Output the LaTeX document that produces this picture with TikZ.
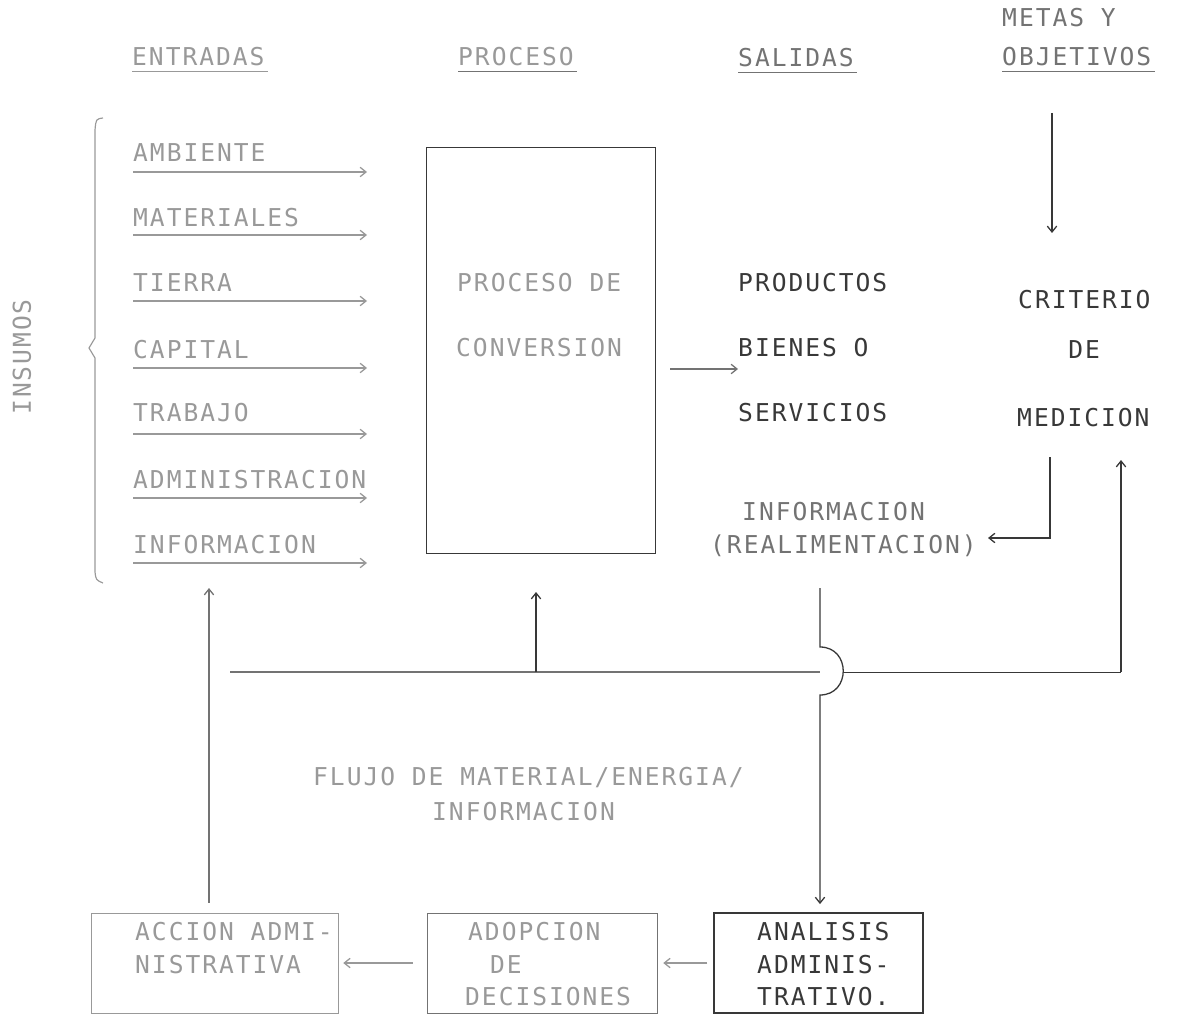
\documentclass[tikz,border=0pt]{standalone}
\usepackage{fontspec}
\usetikzlibrary{arrows.meta}
\newfontfamily\tw[LetterSpace=8]{DejaVu Sans Mono}
\definecolor{faint}{gray}{0.60}
\definecolor{mid}{gray}{0.45}
\definecolor{ink}{gray}{0.22}
\tikzset{
  lbl/.style={anchor=base west, inner sep=0pt, font={\tw\fontsize{21}{25}\selectfont}},
  flbl/.style={lbl, text=faint},
  mlbl/.style={lbl, text=mid},
  dlbl/.style={lbl, text=ink},
  box/.style={draw, inner sep=0pt},
  ln/.style={line width=1.1pt},
  arr/.style={ln, -{Straight Barb[length=5pt,width=8pt]}},
}
\begin{document}
\begin{tikzpicture}[x=0.03cm,y=-0.03cm]
\useasboundingbox (0,0) rectangle (1181,1020);

% headers
\node[flbl] (hEnt) at (132,65.5) {ENTRADAS};
\node[flbl] (hPro) at (458,65.5) {PROCESO};
\node[mlbl] (hSal) at (738,66.5) {SALIDAS};
\node[mlbl] (hMet) at (1002,26.5) {METAS Y};
\node[mlbl] (hObj) at (1002,65.5) {OBJETIVOS};
\foreach \n/\c in {hEnt/faint,hPro/mid,hSal/mid,hObj/mid}
  \draw[\c, line width=1pt] ([yshift=-0.19cm]\n.base west) -- ([yshift=-0.19cm,xshift=0.1cm]\n.base east);

% INSUMOS and brace
\node[flbl, anchor=center, rotate=90] (ins) at (22,357) {INSUMOS};
\draw[faint, line width=1pt] (103,118) .. controls (96,119) .. (95,130) -- (95,338) -- (89,348) -- (95,358) -- (95,572) .. controls (96,580) .. (103,583);

% inputs
\foreach \t/\yy/\ya [count=\i] in {AMBIENTE/153/172, MATERIALES/218/235, TIERRA/283/301, CAPITAL/350/368, TRABAJO/413/434, ADMINISTRACION/480/498, INFORMACION/545/563}{
  \node[flbl] (in\i) at (133,\yy+8.5) {\t};
  \coordinate (ie\i) at (367,\ya);
  \draw[arr, faint] (in\i.base west |- ie\i) -- (ie\i);
}

% process box
\node[box, draw=ink, minimum width=6.87cm, minimum height=12.18cm] (proc) at (540.5,350) {};
\node[flbl] (p1) at (457,291.5) {PROCESO DE};
\node[flbl] (p2) at (456,356.5) {CONVERSION};

% outputs
\node[dlbl] (o1) at (738,291.5) {PRODUCTOS};
\node[dlbl] (o2) at (738,356.5) {BIENES O};
\node[dlbl] (o3) at (738,421.5) {SERVICIOS};
\node[mlbl] (o4) at (742,520.5) {INFORMACION};
\node[mlbl] (o5) at (710,553.5) {(REALIMENTACION)};
\draw[arr, mid] (proc.east |- 0,369) ++(15,0) coordinate (pa) -- (o2.base west |- pa) ;

% criterio
\node[dlbl] (c1) at (1018,308.5) {CRITERIO};
\node[dlbl] (c2) at (1068,358.5) {DE};
\node[dlbl] (c3) at (1017,426.5) {MEDICION};
\coordinate (mtTop) at (1052,113);
\coordinate (mtEnd) at (1052,233);
\draw[arr, ink] (mtTop) -- (mtEnd);
\coordinate (fbTop) at (1050,457);
\coordinate (fbEnd) at (988,538);
\draw[arr, ink] (fbTop) -- (fbTop |- fbEnd) -- (fbEnd);

% bottom boxes
\node[box, draw=faint, minimum width=7.41cm, minimum height=3cm] (acc) at (214.5,963) {};
\node[box, draw=mid, minimum width=6.9cm, minimum height=3cm] (adop) at (542,963) {};
\node[box, draw=ink, line width=1pt, minimum width=6.27cm, minimum height=3cm] (ana) at (818.5,963) {};
\node[flbl] (a1) at (135,940.5) {ACCION ADMI-};
\node[flbl] (a2) at (135,973.5) {NISTRATIVA};
\node[flbl] (d1) at (468,940.5) {ADOPCION};
\node[flbl] (d2) at (490,973.5) {DE};
\node[flbl] (d3) at (465,1005.5) {DECISIONES};
\node[dlbl] (n1) at (757,940.5) {ANALISIS};
\node[dlbl] (n2) at (757,973.5) {ADMINIS-};
\node[dlbl] (n3) at (757,1005.5) {TRATIVO.};
\draw[arr, faint, shorten <=0.18cm, shorten >=0.18cm] (ana.west) -- (adop.east);
\draw[arr, faint, shorten <=0.42cm, shorten >=0.15cm] (adop.west) -- (acc.east);

% flow text
\node[flbl] (f1) at (313,785.5) {FLUJO DE MATERIAL/ENERGIA/};
\node[flbl] (f2) at (432,820.5) {INFORMACION};

% feedback lines
\coordinate (hL) at (230,672);
\coordinate (hR) at (1121,672);
\coordinate (crit) at (1121,460);
\draw[ln, mid] (hL) -- (820,672);
\draw[ln, ink, line width=0.8pt] (843,672) -- (hR);
\draw[arr, ink] (hR) -- (crit);
\coordinate (upP) at (536,592);
\draw[arr, ink] (upP |- hL) -- (upP);
\coordinate (upI) at (209,588);
\draw[arr, mid, shorten <=0.3cm] (acc.north -| upI) -- (upI);
\coordinate (vTop) at (820,588);
\draw[arr, ink, shorten >=0.25cm] (vTop) -- (820,647) .. controls (851,647) and (851,695) .. (820,695) -- (ana.north -| vTop);
\end{tikzpicture}
\end{document}
